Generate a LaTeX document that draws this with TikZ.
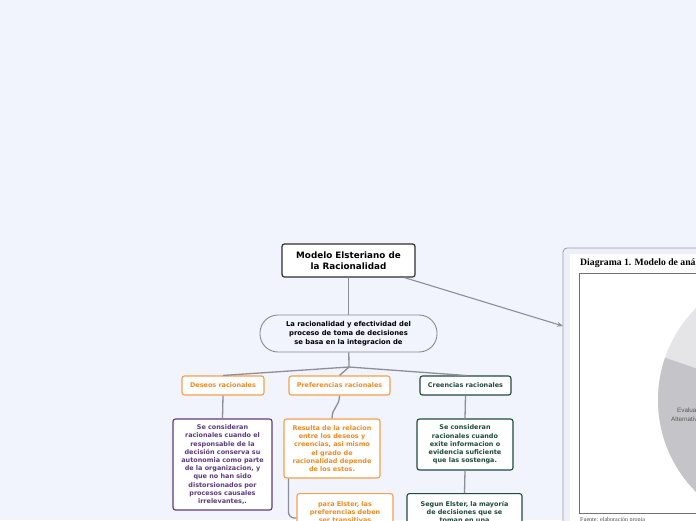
\documentclass[tikz,border=0pt]{standalone}
\usepackage{fontspec}
\setmainfont{DejaVu Sans}
\newfontfamily\serifpanel{Liberation Serif}
\newfontfamily\piefont{Liberation Sans}
\usetikzlibrary{arrows.meta}
\definecolor{bg}{HTML}{F1F3FD}
\definecolor{linegrey}{HTML}{8E8E96}
\definecolor{orangeb}{HTML}{F5A04A}
\definecolor{oranget}{HTML}{F08A22}
\definecolor{purpleb}{HTML}{5E3B7C}
\definecolor{greenb}{HTML}{1F4A3C}
\definecolor{titleb}{HTML}{2E2E2E}
\definecolor{pillb}{HTML}{8A8A90}
\definecolor{panelbg}{HTML}{EEF0F9}
\definecolor{panelb}{HTML}{9A9AA0}
\definecolor{pielight}{HTML}{E5E5E7}
\definecolor{piedark}{HTML}{C5C5C9}
\tikzset{
  boxtext/.style={font=\fontsize{6.45}{8.2}\selectfont\bfseries, align=center},
  basebox/.style={boxtext, draw, fill=white, rounded corners=2.5pt, line width=1.1pt, inner sep=0pt},
  obox/.style={basebox, draw=orangeb, text=oranget},
  gbox/.style={basebox, draw=greenb, text=greenb},
  pbox/.style={basebox, draw=purpleb, text=purpleb},
  titlebox/.style={draw=titleb, fill=white, rounded corners=2.5pt, line width=1.2pt, inner sep=0pt,
     font=\fontsize{8.8}{11}\selectfont\bfseries, align=center},
  pillbox/.style={draw=pillb, fill=bg, rounded corners=18pt, line width=0.9pt, inner sep=0pt,
     font=\fontsize{6.8}{9}\selectfont\bfseries, align=center},
  conn/.style={draw=linegrey, line width=1.3pt},
  pietext/.style={font=\piefont\fontsize{6.3}{7.5}\selectfont, text=black!65, inner sep=0pt, anchor=west}
}
\begin{document}
\begin{tikzpicture}[x=1pt,y=-1pt]
\useasboundingbox (0,0) rectangle (696,520);
\clip (0,0) rectangle (696,520);
\fill[bg] (0,0) rectangle (696,520);

% image panel
\draw[panelb, fill=panelbg, rounded corners=4pt, line width=0.8pt] (563,248) rectangle (760,580);
\fill[white] (570,254) rectangle (760,580);
\node[anchor=base west, inner sep=0pt, font=\serifpanel\bfseries\fontsize{9.7}{11}\selectfont] (ptitle) at (580,265.5) {Diagrama 1. Modelo de análisis};
\draw[black!55, line width=0.6pt] (579,273) rectangle (760,513);
\begin{scope}
  \clip (788,400) circle (130pt);
  \fill[pielight] (640,250) rectangle (950,560);
  \fill[piedark] (788,400) -- (538,314) -- (538,600) -- (900,600) -- cycle;
\end{scope}
\node[pietext] (ev) at (677,410) {Evaluación de};
\node[pietext] (alt) at (671,419) {Alternativas};
\node[anchor=base west, inner sep=0pt, font=\serifpanel\fontsize{6}{7}\selectfont, text=black!70] (fuente) at (580,521.5) {Fuente: elaboración propia};
\coordinate (imgin) at (563,326);

% nodes
\node[titlebox, minimum width=133pt, minimum height=33pt] (title) at (348.5,260.5) {Modelo Elsteriano de\\la Racionalidad};
\node[pillbox, minimum width=177pt, minimum height=37pt] (pill) at (348.5,333.5) {La racionalidad y efectividad del\\proceso de toma de decisiones\\se basa en la integracion de};
\node[obox, minimum width=82pt, minimum height=19pt] (deseos) at (223,385.5) {Deseos racionales};
\node[obox, minimum width=101pt, minimum height=19pt] (pref) at (339.5,385.5) {Preferencias racionales};
\node[gbox, minimum width=91pt, minimum height=19pt] (creen) at (465.5,385.5) {Creencias racionales};
\node[pbox, minimum width=99pt, minimum height=91pt] (dchild) at (222.5,464.5) {Se consideran\\racionales cuando el\\responsable de la\\decisión conserva su\\autonomia como parte\\de la organizacion, y\\que no han sido\\distorsionados por\\procesos causales\\irrelevantes,.};
\node[obox, minimum width=96pt, minimum height=59pt] (pc1) at (332,448.5) {Resulta de la relacion\\entre los deseos y\\creencias, asi mismo\\el grado de\\racionalidad depende\\de los estos.};
\node[gbox, minimum width=96pt, minimum height=51pt] (cc1) at (465,444.5) {Se consideran\\racionales cuando\\exite informacion o\\evidencia suficiente\\que las sostenga.};
\node[obox, anchor=north, text width=92pt, inner xsep=2pt, text height=13pt, text depth=40pt] (pc2) at (345,493) {para Elster, las\\preferencias deben\\ser transitivas};
\node[gbox, anchor=north, text width=111pt, inner xsep=2pt, text height=12.5pt, text depth=40pt] (cc2) at (464.5,493) {Segun Elster, la mayoría\\de decisiones que se\\toman en una};

% connectors
\coordinate (j) at (349,367);
\draw[conn] (title) -- (pill);
\draw[conn] (pill) -- (j);
\draw[conn] (j) -- (deseos.north);
\draw[conn] (j) -- (creen.north);
\draw[conn] (j) .. controls (345,371) .. (pref.north);
\draw[conn] (deseos.south) -- (dchild.north);
\draw[conn] (pref.south) .. controls (339.5,407) and (332,407) .. (pc1.north);
\draw[conn] (creen.south) -- (cc1.north);
\draw[conn] (cc1.south) -- (cc2.north);
\draw[conn, rounded corners=6pt] ([xshift=5pt]pc1.south west) |- ([yshift=-25pt]pc2.north west);
\draw[conn, line width=1.1pt, -{Stealth[length=6pt,width=5pt]}] (title) -- (imgin);
\end{tikzpicture}
\end{document}
